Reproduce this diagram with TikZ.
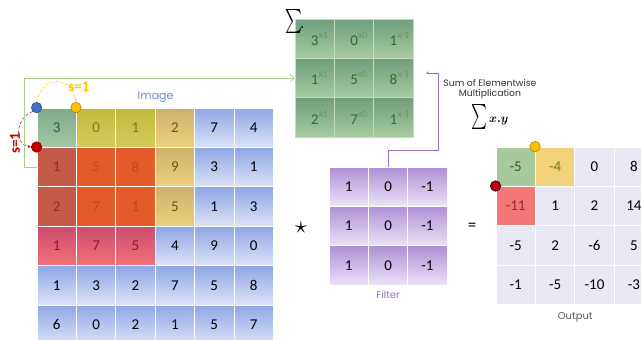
\documentclass[tikz,border=0pt]{standalone}
\usepackage{amsmath,graphicx}
\usepackage{fontspec}
\setmainfont{Carlito}
\newfontfamily\lblfont{Poppins}
\usetikzlibrary{arrows.meta,positioning,calc}
\definecolor{blueT}{HTML}{8EA6E6}
\definecolor{blueB}{HTML}{DDE3F6}
\definecolor{grnT}{HTML}{7FA98A}
\definecolor{grnB}{HTML}{A5C6A5}
\definecolor{grnTx}{HTML}{2F5E34}
\definecolor{oliT}{HTML}{C2BA3C}
\definecolor{oliB}{HTML}{D4CA5C}
\definecolor{oliTx}{HTML}{7D7420}
\definecolor{tanT}{HTML}{CFB06C}
\definecolor{tanB}{HTML}{EDD17E}
\definecolor{tanTx}{HTML}{6E5518}
\definecolor{brnC}{HTML}{C45A48}
\definecolor{brnTx}{HTML}{8E2C22}
\definecolor{orgC}{HTML}{E35B28}
\definecolor{orgTx}{HTML}{BD4619}
\definecolor{redT}{HTML}{CC4C6E}
\definecolor{redB}{HTML}{F0727A}
\definecolor{redTx}{HTML}{8C1530}
\definecolor{sumT}{HTML}{6F9E7E}
\definecolor{sumB}{HTML}{A8CB9F}
\definecolor{sumTx}{HTML}{2F6A2A}
\definecolor{sumSup}{HTML}{5E9A62}
\definecolor{purT}{HTML}{AE90D6}
\definecolor{purB}{HTML}{EBE3F6}
\definecolor{outP}{HTML}{E8E9F3}
\definecolor{outG}{HTML}{A8CA9A}
\definecolor{outY}{HTML}{F2D27A}
\definecolor{outR}{HTML}{F27878}
\definecolor{dotBl}{HTML}{4472C4}
\definecolor{dotYl}{HTML}{FFC000}
\definecolor{dotRd}{HTML}{C00000}
\definecolor{lnGrn}{HTML}{A9D18E}
\definecolor{lnPur}{HTML}{9A6FC8}
\definecolor{lblBlue}{HTML}{6C8ED8}
\newcommand\supx[2]{\raisebox{-3pt}{#1\rlap{\raisebox{7pt}{\fontsize{10}{10}\selectfont\textcolor{sumSup}{x#2}}}}}
\newcommand\bigsig[2]{\resizebox*{#1}{#2}{$\textstyle\sum$}}
\tikzset{
  cell/.style  = {rectangle, draw=white, line width=0.8pt, minimum size=39.4pt,
                  inner sep=0pt, font=\fontsize{15}{16}\selectfont},
  imB/.style   = {cell, top color=blueT, bottom color=blueB},
  imG/.style   = {cell, top color=grnT, bottom color=grnB, text=grnTx},
  imO/.style   = {cell, top color=oliT, bottom color=oliB, text=oliTx},
  imT/.style   = {cell, top color=tanT, bottom color=tanB, text=tanTx},
  imN/.style   = {cell, fill=brnC, text=brnTx},
  imX/.style   = {cell, fill=orgC, text=orgTx},
  imR/.style   = {cell, top color=redT, bottom color=redB, text=redTx},
  sumc/.style  = {cell, top color=sumT, bottom color=sumB, text=sumTx, draw=sumB!70!white},
  fltc/.style  = {cell, top color=purT, bottom color=purB},
  otP/.style   = {cell, fill=outP},
  otG/.style   = {cell, fill=outG, text=grnTx},
  otY/.style   = {cell, fill=outY, text=oliTx},
  otR/.style   = {cell, fill=outR, text=brnTx},
  dot/.style   = {circle, inner sep=0pt, minimum size=10.5pt, line width=0.6pt},
  lbl/.style   = {font=\lblfont\fontsize{10}{11}\selectfont, inner sep=1pt},
  slbl/.style  = {font=\bfseries\fontsize{15}{15}\selectfont, inner sep=0pt},
  gline/.style = {-{Straight Barb[length=4pt]}, lnGrn, line width=0.8pt},
  pline/.style = {-{Stealth[length=3pt,width=3pt]}, lnPur, line width=0.8pt},
  sarc/.style  = {-{Stealth[length=3.5pt]}, densely dashed, line width=0.5pt},
}
\begin{document}
\begin{tikzpicture}[x=1pt,y=-1pt]
  \useasboundingbox (0,0) rectangle (641,340);

  % input image
  \foreach \r/\row in {0/{G/3,O/0,O/1,T/2,B/7,B/4}, 1/{N/1,X/5,X/8,T/9,B/3,B/1},
                       2/{N/2,X/7,X/1,T/5,B/1,B/3}, 3/{R/1,R/7,R/5,B/4,B/9,B/0},
                       4/{B/1,B/3,B/2,B/7,B/5,B/8}, 5/{B/6,B/0,B/2,B/1,B/5,B/7}}
    \foreach \k/\v [count=\c from 0] in \row
      \node[im\k] (img-\r-\c) at ({56.7+39.4*\c},{127.7+39.4*\r}) {\v};

  % window times filter weights
  \foreach \r/\row in {0/{3/1,0/0,1/-1}, 1/{1/1,5/0,8/-1}, 2/{2/1,7/0,1/-1}}
    \foreach \v/\w [count=\c from 0] in \row
      \node[sumc] (sum-\r-\c) at ({314.7+39.4*\c},{38.7+39.4*\r}) {\supx{\v}{\w}};
  \node[inner sep=0pt, anchor=north west] (sig) at (285,9) {\bigsig{17pt}{24pt}};
  \node[circle, fill=black, inner sep=0pt, minimum size=2pt] (sigDot) at (302,27) {};

  % filter
  \foreach \r in {0,1,2}
    \foreach \c/\v in {0/1,1/0,2/-1}
      \node[fltc] (flt-\r-\c) at ({348.7+39.4*\c},{186.7+39.4*\r}) {\v};

  % output
  \foreach \r/\row in {0/{G/-5,Y/-4,P/0,P/8}, 1/{R/-11,P/1,P/2,P/14},
                       2/{P/-5,P/2,P/-6,P/5}, 3/{P/-1,P/-5,P/-10,P/-3}}
    \foreach \k/\v [count=\c from 0] in \row
      \node[ot\k] (out-\r-\c) at ({515.7+39.4*\c},{166.7+39.4*\r}) {\v};

  % labels
  \node[lbl, font=\lblfont\fontsize{11}{12}\selectfont, text=lblBlue] (imgLbl)
    at ($(img-0-2.north east)+(0,-10)$) {Image};
  \node[lbl, text=lnPur, below=4pt of flt-2-1] (fltLbl) {Filter};
  \node[lbl, text=black!65] (outLbl) at ($(out-3-1.south east)+(0,12)$) {Output};
  \node[lbl, font=\lblfont\fontsize{9.3}{10.5}\selectfont, text=black!80, align=center] (sumTxt)
    at (490,89) {Sum of Elementwise\\Multiplication};
  \node[inner sep=0pt, anchor=north] (sumXY) at (490,104)
    {\bigsig{16pt}{25pt}\,{\fontsize{12}{12}\selectfont$\boldsymbol{x.y}$}};
  \node[font=\fontsize{24}{24}\selectfont, inner sep=0pt] (opStar) at (301,228) {$\star$};
  \node[font=\fontsize{17}{17}\selectfont, inner sep=0pt] (opEq) at (472,227) {=};

  % stride markers
  \node[dot, fill=dotBl, draw=dotBl!70!black] (dotB) at (img-0-0.north west) {};
  \node[dot, fill=dotYl, draw=dotYl!70!black] (dotY) at (img-0-1.north west) {};
  \node[dot, fill=dotRd, draw=dotRd!70!black] (dotR) at (img-1-0.north west) {};
  \draw[sarc, dotYl] (dotB.north) to[out=80, in=100, looseness=1.8] (dotY.north);
  \draw[sarc, dotRd] (dotB.south west) to[out=200, in=170, looseness=1.3] (dotR.west);
  \node[slbl, text=dotYl] (sY) at (79,87) {s=1};
  \node[slbl, text=dotRd, rotate=90] (sR) at (15,143) {s=1};
  \node[dot, fill=dotYl, draw=dotYl!70!black] (oY) at (out-0-1.north west) {};
  \node[dot, fill=dotRd, draw=blue!40!black] (oR) at (out-1-0.north west) {};

  % connectors
  \draw[gline] (img-1-0.west) -- ++(-12,0) |- (sum-1-0.west);
  \coordinate (kink) at (438,150);
  \coordinate (sumTip) at (426,73);
  \draw[pline] (flt-0-1.north) |- (kink) |- (sumTip);
\end{tikzpicture}
\end{document}
